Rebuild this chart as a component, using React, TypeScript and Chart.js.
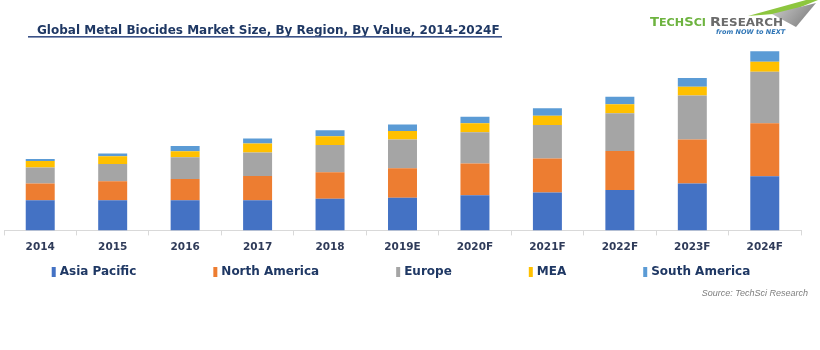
import React, { useEffect, useRef } from "react";
import { Chart, registerables } from "chart.js";

Chart.register(...registerables);

// ---- Data (heights, relative units) ----
const categories = ["2014", "2015", "2016", "2017", "2018", "2019E", "2020F", "2021F", "2022F", "2023F", "2024F"];
const asiaPacific = [30, 30, 30, 30, 31.7, 32.7, 35, 37.7, 40.3, 46.7, 54];
const northAmerica = [16.7, 19, 21.3, 24.3, 26.3, 29.3, 31.7, 34, 39, 44, 53];
const europe = [16, 17.3, 21.7, 23.4, 27.3, 28.7, 31.3, 33.6, 37.7, 44, 51.3];
const mea = [6.6, 7.7, 6, 9, 8.7, 8.6, 9, 9, 9, 8.6, 10];
const southAmerica = [2, 2.7, 5.3, 5, 6, 6.4, 6.3, 7.7, 7.3, 8.7, 10.4];

const seriesNames = ["Asia Pacific", "North America", "Europe", "MEA", "South America"];
const seriesValues = [asiaPacific, northAmerica, europe, mea, southAmerica];
const seriesColors = ["#4472C4", "#ED7D31", "#A5A5A5", "#FFC000", "#5B9BD5"];

const titleText = "Global Metal Biocides Market Size, By Region, By Value, 2014-2024F";
const sourceText = "Source: TechSci Research";
const yMax = 190;

function drawSmallCapsFit(
  ctx: CanvasRenderingContext2D,
  parts: [string, boolean][],
  x: number,
  y: number,
  big: number,
  small: number,
  targetWidth: number,
  color: string
) {
  let w = 0;
  for (const [t, isBig] of parts) {
    ctx.font = `bold ${isBig ? big : small}px "DejaVu Sans"`;
    w += ctx.measureText(t).width;
  }
  const sx = targetWidth / w;
  ctx.save();
  ctx.translate(x, y);
  ctx.scale(sx, 1);
  ctx.fillStyle = color;
  let cx = 0;
  for (const [t, isBig] of parts) {
    ctx.font = `bold ${isBig ? big : small}px "DejaVu Sans"`;
    ctx.fillText(t, cx, 0);
    cx += ctx.measureText(t).width;
  }
  ctx.restore();
}

const decorPlugin = {
  id: "decor",
  afterDraw(chart: any) {
    const ctx: CanvasRenderingContext2D = chart.ctx;
    ctx.save();
    ctx.textBaseline = "alphabetic";
    ctx.textAlign = "left";

    // Title
    ctx.font = `bold 12px "DejaVu Sans"`;
    const w12 = ctx.measureText(titleText).width;
    const fs = (12 * 463) / w12;
    ctx.font = `bold ${fs}px "DejaVu Sans"`;
    ctx.fillStyle = "#1F3864";
    ctx.fillText(titleText, 37, 34);
    ctx.fillStyle = "#3A5187";
    ctx.fillRect(28, 36, 474, 1.6);

    // Logo swoosh
    ctx.fillStyle = "#8DC63F";
    ctx.beginPath();
    ctx.moveTo(748, 16);
    ctx.lineTo(806, 0);
    ctx.lineTo(818, 0);
    ctx.lineTo(786, 13);
    ctx.closePath();
    ctx.fill();
    const g = ctx.createLinearGradient(775, 5, 800, 27);
    g.addColorStop(0, "#c8c8c8");
    g.addColorStop(1, "#8a8a8a");
    ctx.fillStyle = g;
    ctx.beginPath();
    ctx.moveTo(772, 14);
    ctx.lineTo(816, 3);
    ctx.lineTo(796, 27);
    ctx.closePath();
    ctx.fill();

    // Logo text
    drawSmallCapsFit(ctx, [["T", true], ["ECH", false], ["S", true], ["CI", false]], 650, 26, 13, 11, 56, "#6DB33F");
    drawSmallCapsFit(ctx, [["R", true], ["ESEARCH", false]], 710, 26, 13, 11, 73, "#6B6B6B");
    ctx.font = `italic bold 6.5px "DejaVu Sans"`;
    ctx.fillStyle = "#2E75B6";
    ctx.fillText("from NOW to NEXT", 716, 34);

    // Legend
    ctx.font = `bold 12px "DejaVu Sans"`;
    const gap = 74;
    const widths = seriesNames.map((n) => 11 + ctx.measureText(n).width);
    const total = widths.reduce((a, b) => a + b, 0) + gap * (widths.length - 1);
    let lx = (chart.chartArea.left + chart.chartArea.right) / 2 - total / 2;
    const ly = 272;
    chart.data.datasets.forEach((ds: any, i: number) => {
      ctx.fillStyle = ds.backgroundColor;
      ctx.fillRect(lx, ly - 5, 4, 10);
      ctx.fillStyle = "#1F3864";
      ctx.textBaseline = "middle";
      ctx.fillText(ds.label, lx + 8, ly);
      lx += widths[i] + gap;
    });

    // Source
    ctx.textBaseline = "alphabetic";
    ctx.textAlign = "right";
    ctx.font = `italic 9px "Liberation Sans"`;
    ctx.fillStyle = "#7F7F7F";
    ctx.fillText(sourceText, 808, 296);
    ctx.restore();
  },
};

export default function App() {
  const ref = useRef<HTMLCanvasElement | null>(null);
  useEffect(() => {
    if (!ref.current) return;
    const chart = new Chart(ref.current, {
      type: "bar",
      data: {
        labels: categories,
        datasets: seriesNames.map((name, i) => ({
          label: name,
          data: seriesValues[i],
          backgroundColor: seriesColors[i],
          borderWidth: 0,
          categoryPercentage: 0.4,
          barPercentage: 1,
        })),
      },
      options: {
        animation: false,
        responsive: false,
        devicePixelRatio: 1,
        layout: { padding: { top: 40, left: 4, right: 19, bottom: 90 } },
        plugins: {
          legend: { display: false },
          title: { display: false },
          tooltip: { enabled: false },
        },
        scales: {
          x: {
            stacked: true,
            grid: { display: true, drawOnChartArea: false, drawTicks: true, tickLength: 5, color: "#D9D9D9", offset: true },
            border: { display: true, color: "#D9D9D9" },
            ticks: { color: "#2F3B59", padding: 6, font: { family: '"DejaVu Sans"', size: 10.5, weight: "bold" } },
          },
          y: { stacked: true, display: false, min: 0, max: yMax },
        },
      },
      plugins: [decorPlugin],
    });
    return () => chart.destroy();
  }, []);
  return (
    <div style={{ position: "fixed", left: 0, top: 0, width: 820, height: 350, background: "#fff" }}>
      <canvas ref={ref} width={820} height={350} style={{ width: 820, height: 350, display: "block" }} />
    </div>
  );
}
